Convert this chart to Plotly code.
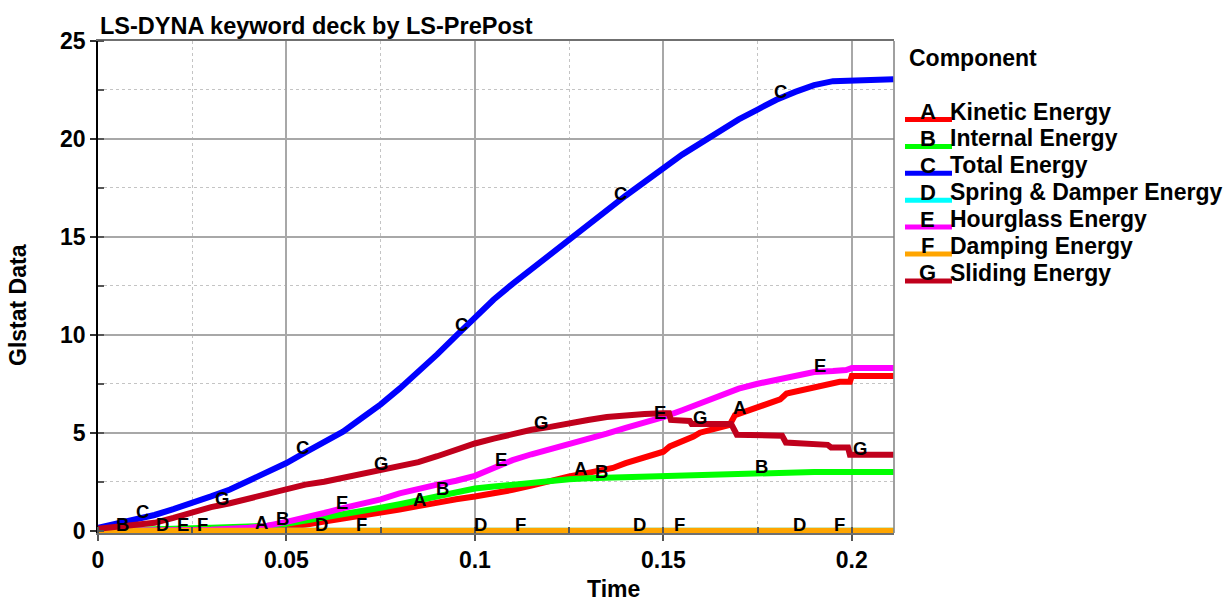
import numpy as np
import plotly.graph_objects as go

# ---------------------------------------------------------------- data
T_END = 0.2111

# A  Kinetic Energy
t_kinetic = [0, 0.02, 0.03, 0.04, 0.045, 0.05, 0.055, 0.06, 0.065, 0.07, 0.075, 0.08,
             0.085, 0.09, 0.095, 0.1, 0.105, 0.11, 0.115, 0.118, 0.125, 0.13, 0.1366,
             0.14, 0.1456, 0.15, 0.1517, 0.1544, 0.158, 0.1597, 0.1676, 0.169, 0.1747,
             0.181, 0.1827, 0.189, 0.1968, 0.1995, 0.2, T_END]
kinetic = [0, 0.02, 0.06, 0.1, 0.15, 0.2, 0.3, 0.46, 0.6, 0.75, 0.92, 1.08,
           1.25, 1.45, 1.6, 1.74, 1.9, 2.08, 2.3, 2.45, 2.77, 2.95, 3.2,
           3.45, 3.8, 4.03, 4.3, 4.5, 4.8, 5.0, 5.4, 5.9, 6.3,
           6.7, 7.0, 7.3, 7.6, 7.6, 7.9, 7.9]

# B  Internal Energy
t_internal = [0, 0.01, 0.02, 0.03, 0.04, 0.045, 0.05, 0.055, 0.06, 0.065, 0.07, 0.075,
              0.08, 0.085, 0.09, 0.095, 0.1, 0.105, 0.11, 0.115, 0.12, 0.125, 0.13,
              0.135, 0.14, 0.15, 0.16, 0.17, 0.175, 0.19, T_END]
internal = [0, 0.02, 0.1, 0.15, 0.2, 0.25, 0.35, 0.5, 0.66, 0.85, 1.0, 1.17,
            1.35, 1.55, 1.8, 2.0, 2.15, 2.25, 2.35, 2.45, 2.55, 2.62, 2.67,
            2.7, 2.73, 2.78, 2.85, 2.93, 2.98, 3.0, 3.0]

# C  Total Energy
t_total = [0, 0.005, 0.01, 0.015, 0.02, 0.025, 0.03, 0.035, 0.04, 0.045, 0.05, 0.055,
           0.06, 0.065, 0.07, 0.075, 0.08, 0.085, 0.09, 0.095, 0.1, 0.105, 0.11,
           0.115, 0.12, 0.125, 0.13, 0.135, 0.14, 0.145, 0.15, 0.155, 0.16, 0.165,
           0.17, 0.175, 0.18, 0.185, 0.19, 0.195, 0.2, 0.205, T_END]
total = [0.15, 0.35, 0.6, 0.8, 1.1, 1.4, 1.75, 2.1, 2.55, 2.95, 3.45, 4.0,
         4.5, 5.05, 5.75, 6.45, 7.25, 8.1, 9.0, 9.95, 10.9, 11.8, 12.6,
         13.35, 14.1, 14.9, 15.6, 16.4, 17.1, 17.8, 18.5, 19.2, 19.8, 20.4,
         21.0, 21.5, 22.0, 22.4, 22.75, 22.95, 23.0, 23.05, 23.05]

# D  Spring & Damper Energy
t_spring = [0, T_END]
spring = [0, 0]

# E  Hourglass Energy
t_hourglass = [0, 0.02, 0.03, 0.04, 0.045, 0.05, 0.055, 0.06, 0.065, 0.07, 0.075, 0.08,
               0.085, 0.09, 0.095, 0.1, 0.105, 0.11, 0.115, 0.12, 0.125, 0.13, 0.135,
               0.14, 0.145, 0.15, 0.155, 0.16, 0.165, 0.17, 0.175, 0.18, 0.185, 0.19,
               0.195, 0.1985, 0.2, T_END]
hourglass = [0, 0.02, 0.05, 0.15, 0.25, 0.45, 0.65, 0.9, 1.15, 1.35, 1.6, 1.9,
             2.15, 2.35, 2.55, 2.8, 3.2, 3.6, 3.9, 4.15, 4.4, 4.65, 4.95,
             5.25, 5.5, 5.8, 6.15, 6.5, 6.85, 7.25, 7.5, 7.7, 7.9, 8.1,
             8.15, 8.2, 8.3, 8.3]

# F  Damping Energy
t_damping = [0, T_END]
damping = [0, 0]

# G  Sliding Energy
t_sliding = [0, 0.005, 0.01, 0.015, 0.02, 0.025, 0.03, 0.035, 0.04, 0.045, 0.05, 0.055,
             0.06, 0.065, 0.07, 0.075, 0.08, 0.085, 0.09, 0.095, 0.1, 0.105, 0.11,
             0.115, 0.12, 0.125, 0.13, 0.135, 0.14, 0.145, 0.15, 0.1515, 0.152, 0.157,
             0.1575, 0.168, 0.1695, 0.1815, 0.1825, 0.188, 0.1893, 0.1936, 0.1945,
             0.199, 0.1995, T_END]
sliding = [0.1, 0.2, 0.3, 0.4, 0.65, 0.95, 1.2, 1.4, 1.65, 1.9, 2.15, 2.35,
           2.5, 2.7, 2.9, 3.1, 3.3, 3.5, 3.8, 4.15, 4.45, 4.7, 4.95,
           5.15, 5.3, 5.5, 5.65, 5.8, 5.9, 5.95, 6.0, 6.0, 5.65, 5.6,
           5.45, 5.45, 4.9, 4.85, 4.5, 4.45, 4.38, 4.38, 4.25,
           4.25, 3.88, 3.88]

letters = ["A", "B", "C", "D", "E", "F", "G"]
names = ["Kinetic Energy", "Internal Energy", "Total Energy", "Spring & Damper Energy",
         "Hourglass Energy", "Damping Energy", "Sliding Energy"]
colors = ["#ff0000", "#00ff00", "#0000ff", "#00ffff", "#ff00ff", "#ffa500", "#c0001c"]
times = [t_kinetic, t_internal, t_total, t_spring, t_hourglass, t_damping, t_sliding]
values = [kinetic, internal, total, spring, hourglass, damping, sliding]

# times at which each curve carries its identifying letter
label_times = {
    "A": [0.0435, 0.0854, 0.1279, 0.1703, 0.2122],
    "B": [0.0066, 0.0490, 0.0913, 0.1337, 0.1760],
    "C": [0.0119, 0.0543, 0.0965, 0.1387, 0.1812],
    "D": [0.0172, 0.0594, 0.1016, 0.1438, 0.1862],
    "E": [0.0225, 0.0647, 0.1069, 0.1491, 0.1915],
    "F": [0.0276, 0.0698, 0.1122, 0.1544, 0.1968],
    "G": [0.0330, 0.0751, 0.1175, 0.1597, 0.2021],
}

x_ticks = [0, 0.05, 0.1, 0.15, 0.2]
x_tick_text = ["0", "0.05", "0.1", "0.15", "0.2"]
y_ticks = [0, 5, 10, 15, 20, 25]

# ---------------------------------------------------------------- layout geometry
W, H = 1232, 603
ML, MR, MT, MB = 98, 338, 41, 70
PW, PH = W - ML - MR, H - MT - MB
FONT = "Liberation Sans, Arial, Helvetica, sans-serif"


def px_x(px):
    return (px - ML) / PW


def px_y(py):
    return (H - MB - py) / PH


def bold(size):
    return dict(family=FONT, size=size, color="black", weight="bold")


fig = go.Figure()

for letter, name, color, t, v in zip(letters, names, colors, times, values):
    fig.add_trace(go.Scatter(x=t, y=v, mode="lines", name=f"{letter} {name}",
                             line=dict(color=color, width=6),
                             showlegend=False, hoverinfo="skip"))

annotations = []
# letters along each curve
for letter, t, v in zip(letters, times, values):
    for tt in label_times[letter]:
        annotations.append(dict(
            x=tt, y=float(np.interp(tt, t, v)), xref="x", yref="y",
            text=letter, showarrow=False, yshift=6, font=bold(18.5)))

# legend block
shapes = []
annotations.append(dict(x=px_x(907), y=px_y(58), xref="paper", yref="paper",
                        text="Component", showarrow=False, xanchor="left",
                        yanchor="middle", font=bold(23)))
for i, (letter, name, color) in enumerate(zip(letters, names, colors)):
    yc = 111.5 + 26.9 * i
    shapes.append(dict(type="line", xref="paper", yref="paper",
                       x0=px_x(905), x1=px_x(952), y0=px_y(yc + 8), y1=px_y(yc + 8),
                       line=dict(color=color, width=5)))
    annotations.append(dict(x=px_x(928), y=px_y(yc), xref="paper", yref="paper",
                            text=letter, showarrow=False, xanchor="center",
                            yanchor="middle", font=bold(22)))
    annotations.append(dict(x=px_x(948), y=px_y(yc), xref="paper", yref="paper",
                            text=name, showarrow=False, xanchor="left",
                            yanchor="middle", font=bold(23)))

# axis titles and heading
annotations.append(dict(x=px_x(613), y=px_y(604), xref="paper", yref="paper",
                        text="Time", showarrow=False, font=bold(23)))
annotations.append(dict(x=px_x(3), y=px_y(305), xref="paper", yref="paper",
                        text="Glstat Data", showarrow=False, textangle=-90,
                        font=bold(23)))
annotations.append(dict(x=0, y=px_y(26), xref="paper", yref="paper",
                        text="LS-DYNA keyword deck by LS-PrePost", showarrow=False,
                        xanchor="left", yanchor="middle", font=bold(23.5)))

# right frame edge
shapes.append(dict(type="line", xref="paper", yref="paper", x0=1, x1=1, y0=0, y1=1,
                   line=dict(color="#808080", width=1.5)))

fig.update_layout(
    width=W, height=H,
    margin=dict(l=ML, r=MR, t=MT, b=MB, pad=0),
    paper_bgcolor="white", plot_bgcolor="white",
    showlegend=False,
    annotations=annotations, shapes=shapes,
    font=dict(family=FONT, size=22, color="black"),
)

fig.update_xaxes(
    range=[0, T_END + 0.0001],
    tickmode="array", tickvals=x_ticks, ticktext=x_tick_text,
    tickfont=bold(23),
    ticks="outside", ticklen=6, tickwidth=1.5, tickcolor="#555555",
    ticklabelstandoff=0,
    showline=True, linecolor="#707070", linewidth=1.5, mirror=True,
    showgrid=True, gridcolor="#a8a8a8", gridwidth=1.5,
    zeroline=False,
    minor=dict(dtick=0.025, tick0=0.025, showgrid=True, gridcolor="#c4c4c4",
               griddash="dot", gridwidth=1, ticks="inside", ticklen=6,
               tickcolor="#555555"),
)
fig.update_yaxes(
    range=[-0.12, 25],
    tickmode="array", tickvals=y_ticks,
    tickfont=bold(23),
    ticks="outside", ticklen=6, tickwidth=1.5, tickcolor="#333333",
    ticklabelstandoff=0,
    showline=True, linecolor="black", linewidth=1.5, mirror=False,
    showgrid=True, gridcolor="#a8a8a8", gridwidth=1.5,
    zeroline=False,
    minor=dict(dtick=2.5, tick0=2.5, showgrid=True, gridcolor="#c4c4c4",
               griddash="dot", gridwidth=1, ticks="inside", ticklen=6,
               tickcolor="#555555"),
)

fig.write_html("out.html")
